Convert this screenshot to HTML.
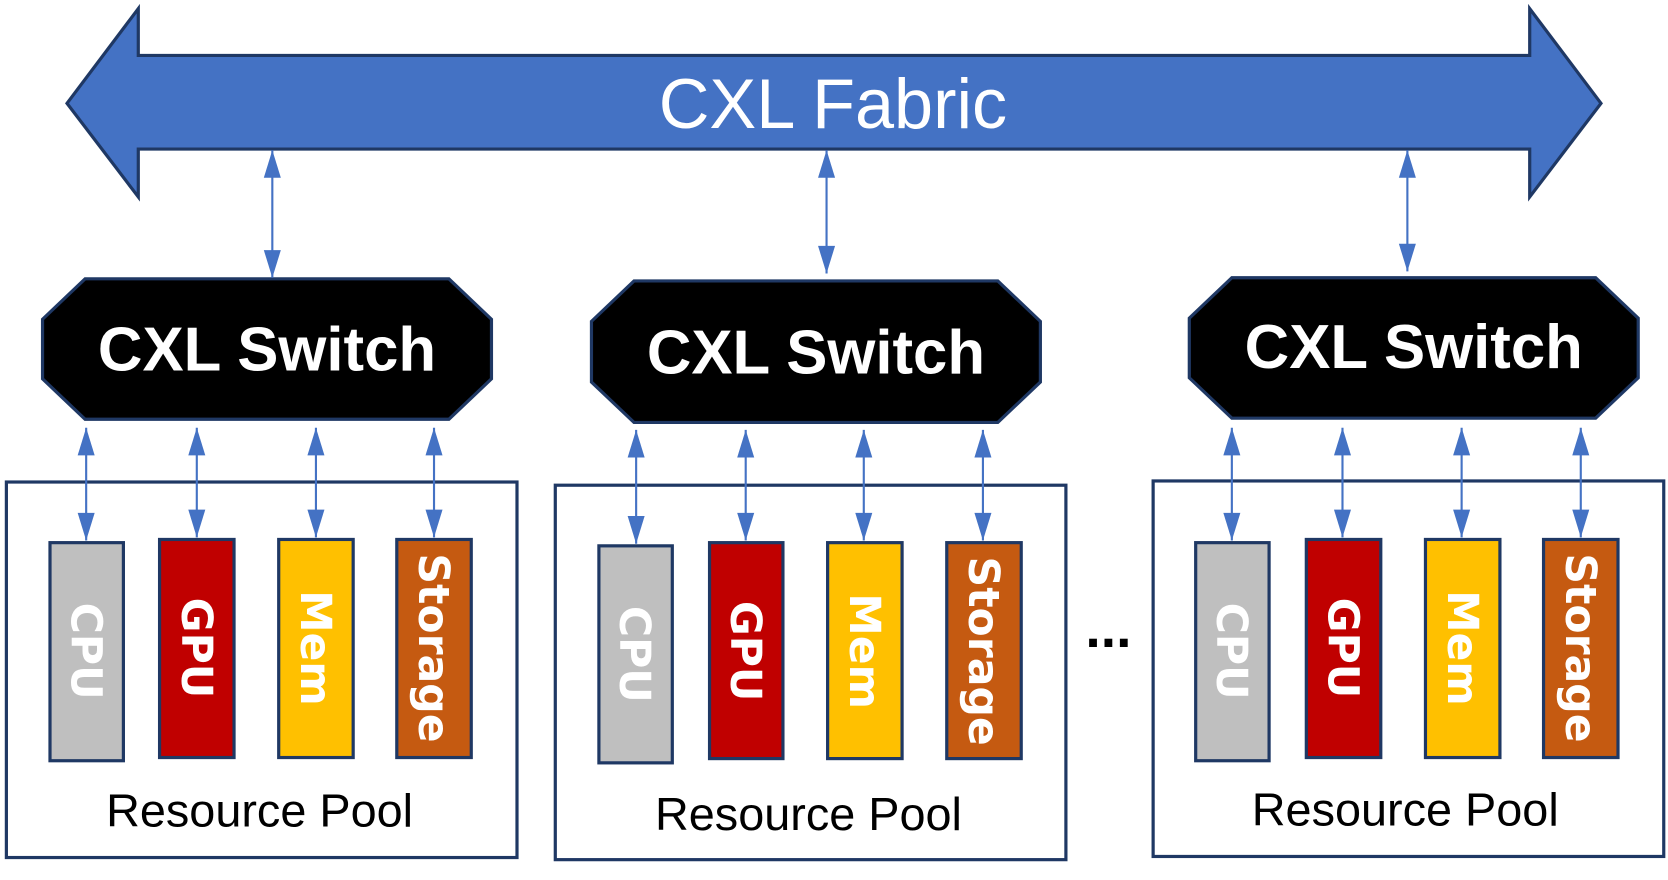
<!DOCTYPE html>
<html><head><style>html,body{margin:0;padding:0;background:#fff}svg{display:block}</style></head><body>
<svg width="1668" height="880" viewBox="0 0 1568 827" xmlns="http://www.w3.org/2000/svg" font-family="'Liberation Sans',sans-serif">
<polygon points="63,97 130,8 130,52 1438,52 1438,8 1505,97 1438,185 1438,140 130,140 130,185" fill="#4472c4" stroke="#1f3864" stroke-width="3"/>
<text x="783" y="120" text-anchor="middle" fill="#fff" font-size="66">CXL Fabric</text>
<g fill="#fff" stroke="#1f3864" stroke-width="3">
<rect x="6" y="453" width="480" height="353"/><rect x="522" y="456" width="480" height="352"/><rect x="1084" y="452" width="480" height="353"/>
</g>
<g fill="#000" stroke="#1f3864" stroke-width="3">
<polygon points="80,262 422,262 462,300 462,356 422,394 80,394 40,356 40,300"/>
<polygon points="596,264 938,264 978,302 978,359 938,397 596,397 556,359 556,302"/>
<polygon points="1158,261 1500,261 1540,299 1540,355 1500,393 1158,393 1118,355 1118,299"/>
</g>
<g fill="#fff" font-size="58" font-weight="bold" text-anchor="middle">
<text x="251" y="348">CXL Switch</text><text x="767" y="351">CXL Switch</text><text x="1329" y="346">CXL Switch</text>
</g>
<g stroke="#1f3864" stroke-width="3">
<rect x="47" y="510" width="69" height="205" fill="#bfbfbf"/><rect x="150" y="507" width="70" height="205" fill="#c00000"/><rect x="262" y="507" width="70" height="205" fill="#ffc000"/><rect x="373" y="507" width="70" height="205" fill="#c55a11"/>
<rect x="563" y="513" width="69" height="204" fill="#bfbfbf"/><rect x="667" y="510" width="69" height="203" fill="#c00000"/><rect x="778" y="510" width="70" height="203" fill="#ffc000"/><rect x="890" y="510" width="70" height="203" fill="#c55a11"/>
<rect x="1124" y="510" width="69" height="205" fill="#bfbfbf"/><rect x="1228" y="507" width="70" height="205" fill="#c00000"/><rect x="1340" y="507" width="70" height="205" fill="#ffc000"/><rect x="1451" y="507" width="70" height="205" fill="#c55a11"/>
</g>
<g stroke="#4472c4" stroke-width="2">
<line x1="256" y1="141" x2="256" y2="261"/><line x1="777" y1="141" x2="777" y2="257"/><line x1="1323" y1="141" x2="1323" y2="255"/>
<line x1="81" y1="402" x2="81" y2="508"/><line x1="185" y1="402" x2="185" y2="505"/><line x1="297" y1="402" x2="297" y2="505"/><line x1="408" y1="402" x2="408" y2="505"/>
<line x1="598" y1="404" x2="598" y2="511"/><line x1="701" y1="404" x2="701" y2="508"/><line x1="812" y1="404" x2="812" y2="508"/><line x1="924" y1="404" x2="924" y2="508"/>
<line x1="1158" y1="402" x2="1158" y2="508"/><line x1="1262" y1="402" x2="1262" y2="505"/><line x1="1374" y1="402" x2="1374" y2="505"/><line x1="1486" y1="402" x2="1486" y2="505"/>
</g>
<g fill="#4472c4">
<polygon points="256,141 248,167 264,167"/><polygon points="256,261 248,235 264,235"/>
<polygon points="777,141 769,167 785,167"/><polygon points="777,257 769,231 785,231"/>
<polygon points="1323,141 1315,167 1331,167"/><polygon points="1323,255 1315,229 1331,229"/>
<polygon points="81,402 73,428 89,428"/><polygon points="81,508 73,482 89,482"/>
<polygon points="185,402 177,428 193,428"/><polygon points="185,505 177,479 193,479"/>
<polygon points="297,402 289,428 305,428"/><polygon points="297,505 289,479 305,479"/>
<polygon points="408,402 400,428 416,428"/><polygon points="408,505 400,479 416,479"/>
<polygon points="598,404 590,430 606,430"/><polygon points="598,511 590,485 606,485"/>
<polygon points="701,404 693,430 709,430"/><polygon points="701,508 693,482 709,482"/>
<polygon points="812,404 804,430 820,430"/><polygon points="812,508 804,482 820,482"/>
<polygon points="924,404 916,430 932,430"/><polygon points="924,508 916,482 932,482"/>
<polygon points="1158,402 1150,428 1166,428"/><polygon points="1158,508 1150,482 1166,482"/>
<polygon points="1262,402 1254,428 1270,428"/><polygon points="1262,505 1254,479 1270,479"/>
<polygon points="1374,402 1366,428 1382,428"/><polygon points="1374,505 1366,479 1382,479"/>
<polygon points="1486,402 1478,428 1494,428"/><polygon points="1486,505 1478,479 1494,479"/>
</g>
<g font-size="44" text-anchor="middle" fill="#000">
<text x="244" y="777">Resource Pool</text><text x="760" y="780">Resource Pool</text><text x="1321" y="776">Resource Pool</text>
</g>
<g fill="#fff" font-size="40" font-weight="bold" text-anchor="middle" font-family="'DejaVu Sans',sans-serif">
<text transform="translate(67,612) rotate(90)">CPU</text><text transform="translate(171,609) rotate(90)">GPU</text><text transform="translate(283,609) rotate(90)">Mem</text><text transform="translate(394,609) rotate(90)">Storage</text>
<text transform="translate(583,615) rotate(90)">CPU</text><text transform="translate(687,612) rotate(90)">GPU</text><text transform="translate(799,612) rotate(90)">Mem</text><text transform="translate(911,612) rotate(90)">Storage</text>
<text transform="translate(1144,612) rotate(90)">CPU</text><text transform="translate(1249,609) rotate(90)">GPU</text><text transform="translate(1361,609) rotate(90)">Mem</text><text transform="translate(1472,609) rotate(90)">Storage</text>
</g>
<text x="1042" y="608" font-size="52" font-weight="bold" text-anchor="middle">...</text>
</svg>
</body></html>
